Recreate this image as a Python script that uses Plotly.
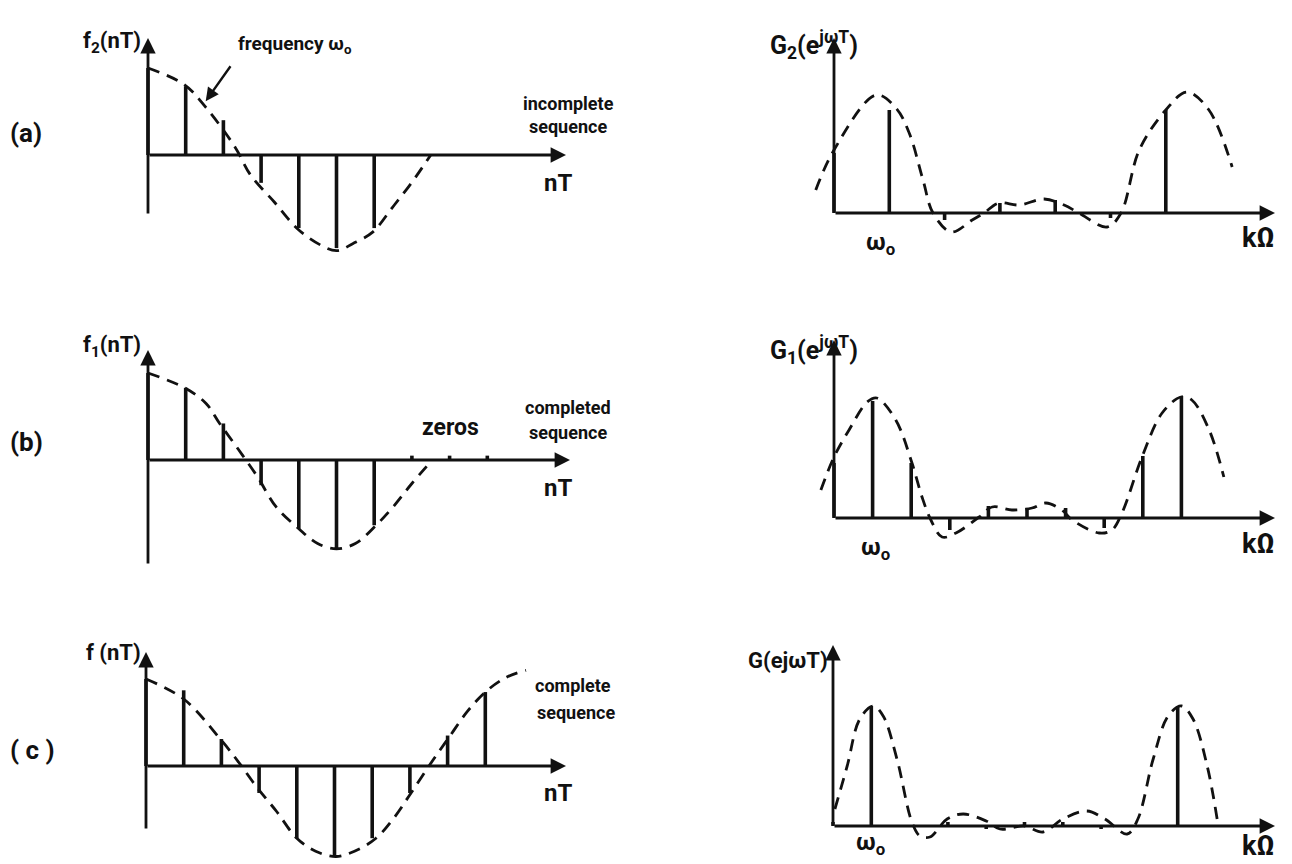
import plotly.graph_objects as go

W, H = 1292, 864

# ---------------- DATA ----------------
# Left column: sampled cosine sequences (sample index n, amplitude)
a_n = [0, 1, 2, 3, 4, 5, 6]
a_vals = [1.0, 0.79, 0.40, -0.32, -0.84, -1.07, -0.84]
a_curve_n = [0, 0.96, 1.53, 2.31, 2.72, 3.35, 3.97, 4.6, 5.01, 5.43, 5.95, 6.47, 6.99, 7.5]
a_curve_v = [1.0, 0.81, 0.55, 0.09, -0.23, -0.54, -0.85, -1.04, -1.10, -1.02, -0.89, -0.61, -0.32, 0.0]

b_n = [0, 1, 2, 3, 4, 5, 6, 7, 8, 9]
b_vals = [1.0, 0.83, 0.42, -0.29, -0.79, -1.02, -0.75, 0.05, 0.05, 0.05]
b_curve_n = [0, 0.97, 1.54, 1.9, 2.4, 2.9, 3.4, 4.0, 4.5, 5.0, 5.5, 6.05, 6.5, 7.0, 7.5]
b_curve_v = [1.0, 0.83, 0.65, 0.42, 0.12, -0.19, -0.54, -0.79, -0.96, -1.02, -0.96, -0.75, -0.54, -0.27, -0.02]

c_n = [0, 1, 2, 3, 4, 5, 6, 7, 8, 9]
c_vals = [1.0, 0.87, 0.31, -0.31, -0.83, -1.04, -0.83, -0.31, 0.35, 0.85]
c_curve_n = [0, 1.0, 1.97, 2.43, 2.95, 3.46, 4.0, 4.5, 5.04, 5.53, 6.1, 6.57, 7.03, 7.6, 8.07, 8.53, 9.0, 9.56, 10.08]
c_curve_v = [1.0, 0.77, 0.31, 0.06, -0.25, -0.52, -0.83, -0.98, -1.04, -0.98, -0.83, -0.6, -0.31, 0.06, 0.35, 0.63, 0.85, 1.02, 1.10]

# Right column: spectra (bin index k, magnitude)
ga_k = [0, 1, 2, 3, 4, 5, 6]
ga_vals = [0.60, 1.03, -0.07, 0.10, 0.13, -0.05, 1.03]
ga_curve_k = [-0.33, 0, 0.76, 1.12, 1.36, 1.61, 1.79, 2.12, 2.5, 2.71, 2.98, 3.35, 3.8, 4.16, 4.43, 4.94, 5.19, 5.52, 6.0, 6.38, 6.78, 7.2]
ga_curve_v = [0.23, 0.63, 1.18, 1.05, 0.80, 0.33, 0.0, -0.19, -0.07, 0.0, 0.10, 0.08, 0.14, 0.08, 0.0, -0.14, 0.0, 0.63, 1.03, 1.21, 1.03, 0.46]

gb_k = [0, 1, 2, 3, 4, 5, 6, 7, 8, 9]
gb_vals = [0.55, 1.17, 0.55, -0.12, 0.12, 0.10, 0.10, -0.10, 0.62, 1.22]
gb_curve_k = [-0.34, 0, 0.39, 0.86, 1.11, 1.6, 2.02, 2.28, 2.51, 2.8, 3.16, 3.76, 4.1, 4.61, 5.13, 5.49, 5.9, 6.17, 6.87, 7.2, 7.46, 7.98, 8.5, 8.99, 9.27, 9.72, 10.1]
gb_curve_v = [0.28, 0.61, 0.88, 1.16, 1.20, 0.98, 0.55, 0.21, -0.02, -0.19, -0.15, 0.01, 0.11, 0.08, 0.10, 0.15, 0.08, -0.02, -0.15, -0.12, 0.05, 0.61, 1.05, 1.21, 1.18, 0.88, 0.41]

gc_k = [0, 1, 2, 3, 4, 5, 6, 7, 8, 9]
gc_vals = [0.04, 1.20, 0.0, 0.04, -0.03, 0.04, 0.04, -0.03, 0.0, 1.20]
gc_curve_k = [0.05, 0.37, 0.7, 1.05, 1.31, 1.67, 2.06, 2.27, 2.53, 2.98, 3.4, 4.0, 4.36, 5.0, 5.48, 6.0, 6.63, 7.1, 7.68, 7.96, 8.36, 8.75, 9.1, 9.4, 9.77, 10.03]
gc_curve_v = [0.17, 0.60, 1.07, 1.20, 1.10, 0.67, 0.04, -0.10, -0.11, 0.07, 0.12, 0.05, -0.03, 0.0, -0.06, 0.07, 0.15, 0.07, -0.08, 0.07, 0.67, 1.10, 1.20, 1.07, 0.60, 0.07]

# ---------------- LAYOUT HELPERS ----------------
INK = "#111111"
FONT = "Roboto"

fig = go.Figure()
layout = {}
annotations = []


def px(x):
    return x / W


def py(y):
    return 1 - y / H


def setup_panel(idx, ox, oy, sx, sy, box):
    x0, y0, x1, y1 = box
    xr = [(x0 - ox) / sx, (x1 - ox) / sx]
    yr = [(oy - y1) / sy, (oy - y0) / sy]
    xn = "xaxis" if idx == 1 else f"xaxis{idx}"
    yn = "yaxis" if idx == 1 else f"yaxis{idx}"
    xa = "x" if idx == 1 else f"x{idx}"
    ya = "y" if idx == 1 else f"y{idx}"
    layout[xn] = dict(domain=[x0 / W, x1 / W], range=xr, visible=False,
                      anchor=ya, fixedrange=True)
    layout[yn] = dict(domain=[1 - y1 / H, 1 - y0 / H], range=yr, visible=False,
                      anchor=xa, fixedrange=True)
    return xa, ya


def stems(xa, ya, xs, vs, width=3.6):
    X, Y = [], []
    for x, v in zip(xs, vs):
        X += [x, x, None]
        Y += [0, v, None]
    fig.add_trace(go.Scatter(x=X, y=Y, mode="lines", xaxis=xa, yaxis=ya,
                             line=dict(color=INK, width=width),
                             hoverinfo="skip", showlegend=False))


def curve(xa, ya, xs, vs):
    fig.add_trace(go.Scatter(x=xs, y=vs, mode="lines", xaxis=xa, yaxis=ya,
                             line=dict(color=INK, width=2.8, dash="12px,8px",
                                       shape="spline", smoothing=1.0),
                             hoverinfo="skip", showlegend=False))


def arrow_line(xa, ya, x_tail, y_tail, x_head, y_head):
    annotations.append(dict(x=x_head, y=y_head, ax=x_tail, ay=y_tail,
                            xref=xa, yref=ya, axref=xa, ayref=ya,
                            showarrow=True, arrowhead=2, arrowsize=1.1,
                            arrowwidth=2.8, arrowcolor=INK, standoff=0,
                            startstandoff=0, text=""))


def label(text, x, y, size=20, xanchor="center", yanchor="middle"):
    annotations.append(dict(text=text, x=px(x), y=py(y), xref="paper", yref="paper",
                            showarrow=False, xanchor=xanchor, yanchor=yanchor,
                            font=dict(family=FONT, size=size, color=INK, weight="bold")))


# ---------------- LEFT COLUMN ----------------
SXL, SYL = 37.7, 87.0
left_panels = [
    (1, 148, 155, (0, 0, 640, 288), a_n, a_vals, a_curve_n, a_curve_v, 566, 38, 215),
    (2, 148, 460, (0, 288, 640, 576), b_n, b_vals, b_curve_n, b_curve_v, 570, 350, 565),
    (3, 146, 766, (0, 576, 640, 864), c_n, c_vals, c_curve_n, c_curve_v, 566, 652, 830),
]
for idx, ox, oy, box, ns, vs, cn, cv, xend, ytop, ybot in left_panels:
    xa, ya = setup_panel(idx, ox, oy, SXL, SYL, box)
    curve(xa, ya, cn, cv)
    stems(xa, ya, ns, vs)
    arrow_line(xa, ya, 0, 0, (xend - ox) / SXL, 0)
    arrow_line(xa, ya, 0, (oy - ybot) / SYL, 0, (oy - ytop) / SYL)

# ---------------- RIGHT COLUMN ----------------
SYR = 100.0
right_panels = [
    (4, 834, 213, 55.3, (650, 0, 1292, 288), ga_k, ga_vals, ga_curve_k, ga_curve_v, 38),
    (5, 834, 518, 38.6, (650, 288, 1292, 576), gb_k, gb_vals, gb_curve_k, gb_curve_v, 340),
    (6, 833, 826, 38.3, (650, 576, 1292, 864), gc_k, gc_vals, gc_curve_k, gc_curve_v, 645),
]
for idx, ox, oy, sx, box, ks, vs, ck, cv, ytop in right_panels:
    xa, ya = setup_panel(idx, ox, oy, sx, SYR, box)
    curve(xa, ya, ck, cv)
    stems(xa, ya, ks, vs)
    arrow_line(xa, ya, 0, 0, (1275 - ox) / sx, 0)
    arrow_line(xa, ya, 0, 0, 0, (oy - ytop) / SYR)

# frequency annotation arrow (panel a)
annotations.append(dict(x=1.5, y=0.6, xref="x", yref="y", ax=27, ay=-38,
                        showarrow=True, arrowhead=2, arrowsize=1.1, arrowwidth=2.4,
                        arrowcolor=INK, standoff=2, text=""))

# ---------------- TEXT ----------------
# left column
label("f<sub>2</sub>(nT)", 143, 42, 22, xanchor="right")
label("frequency ω<sub>o</sub>", 236, 44, 19, xanchor="left")
label("incomplete", 568, 103, 18)
label("sequence", 568, 127, 18)
label("(a)", 8, 133, 26, xanchor="left")
label("nT", 558, 183, 24)

label("f<sub>1</sub>(nT)", 143, 346, 22, xanchor="right")
label("completed", 568, 407, 18)
label("sequence", 568, 432, 18)
label("zeros", 450, 427, 23)
label("(b)", 8, 442, 26, xanchor="left")
label("nT", 558, 488, 24)

label("f (nT)", 143, 652, 22, xanchor="right")
label("complete", 533, 685, 18, xanchor="left")
label("sequence", 535, 712, 18, xanchor="left")
label("( c )", 8, 750, 26, xanchor="left")
label("nT", 558, 793, 24)

# right column
label("G<sub>2</sub>(e<sup>jωT</sup>)", 860, 45, 25, xanchor="right")
label("ω<sub>o</sub>", 880, 243, 24)
label("kΩ", 1258, 238, 27)

label("G<sub>1</sub>(e<sup>jωT</sup>)", 860, 350, 25, xanchor="right")
label("ω<sub>o</sub>", 875, 548, 24)
label("kΩ", 1258, 544, 27)

label("G(ejωT)", 830, 660, 22, xanchor="right")
label("ω<sub>o</sub>", 870, 843, 24)
label("kΩ", 1258, 846, 27)

fig.update_layout(
    width=W, height=H,
    margin=dict(l=0, r=0, t=0, b=0),
    paper_bgcolor="white", plot_bgcolor="rgba(0,0,0,0)",
    showlegend=False,
    annotations=annotations,
    **layout,
)

fig.write_html("out.html",
               config={"displayModeBar": False},
               post_script="document.body.style.margin='0';document.body.style.overflow='hidden';")
